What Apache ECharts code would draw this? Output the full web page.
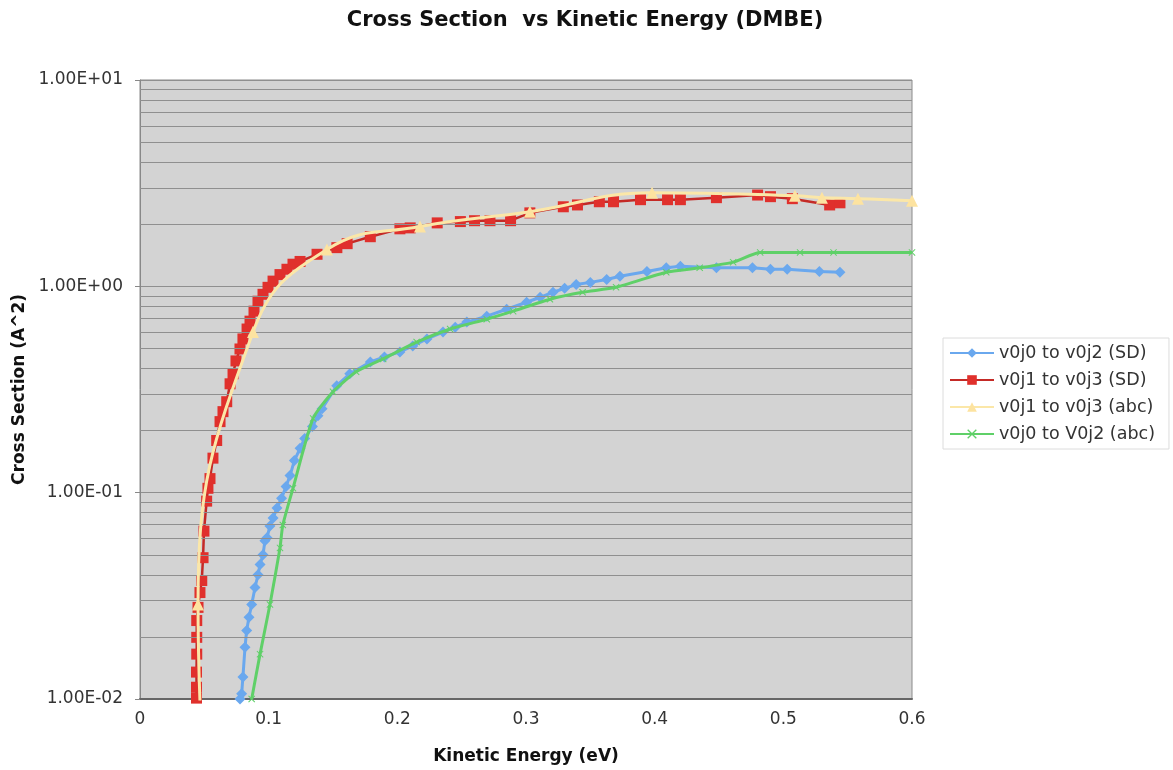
<!DOCTYPE html>
<html>
<head>
<meta charset="utf-8">
<script src="https://cdn.jsdelivr.net/npm/echarts@6/dist/echarts.min.js"></script>
<style>
html,body{margin:0;padding:0;background:#fff;}
#chart{width:1173px;height:770px;}
</style>
</head>
<body>
<div id="chart"></div>
<script>
// ---- data ----
const seriesNames = ['v0j0 to v0j2 (SD)', 'v0j1 to v0j3 (SD)', 'v0j1 to v0j3 (abc)', 'v0j0 to V0j2 (abc)'];

const blueX = [0.0777,0.079,0.080,0.0816,0.0829,0.0847,0.0868,0.0894,0.0917,0.0933,0.0956,0.0971,0.0987,0.101,0.1034,0.1065,0.110,0.1135,0.1166,0.120,0.1244,0.128,0.134,0.1383,0.1415,0.1529,0.163,0.179,0.190,0.202,0.212,0.223,0.2355,0.245,0.254,0.2695,0.285,0.3005,0.311,0.321,0.330,0.339,0.350,0.3627,0.373,0.394,0.409,0.420,0.448,0.476,0.490,0.503,0.528,0.544];
const blueY = [0.0100,0.0106,0.0128,0.0178,0.0215,0.0249,0.0287,0.0347,0.040,0.0448,0.050,0.0584,0.0604,0.069,0.0754,0.0842,0.094,0.107,0.121,0.143,0.164,0.183,0.209,0.236,0.255,0.330,0.377,0.430,0.455,0.481,0.514,0.556,0.600,0.634,0.671,0.717,0.774,0.837,0.885,0.936,0.978,1.02,1.045,1.08,1.12,1.18,1.23,1.25,1.23,1.23,1.21,1.21,1.18,1.17];

const redX = [0.0439,0.0439,0.0439,0.0441,0.0441,0.0441,0.0451,0.0466,0.0480,0.0490,0.0497,0.0518,0.0528,0.0544,0.0567,0.0596,0.0622,0.0645,0.0674,0.070,0.0723,0.0746,0.0777,0.080,0.0832,0.0855,0.0886,0.0917,0.0956,0.0995,0.1034,0.1088,0.1142,0.1189,0.1244,0.1376,0.153,0.161,0.179,0.202,0.210,0.231,0.249,0.260,0.272,0.288,0.303,0.329,0.340,0.357,0.368,0.389,0.410,0.420,0.448,0.480,0.490,0.507,0.536,0.544];
const redY = [0.0101,0.0114,0.0135,0.0165,0.0199,0.0240,0.0278,0.0328,0.0375,0.0484,0.0651,0.091,0.105,0.117,0.147,0.179,0.221,0.247,0.276,0.337,0.377,0.435,0.497,0.556,0.621,0.678,0.758,0.847,0.915,0.989,1.06,1.14,1.21,1.28,1.32,1.43,1.54,1.61,1.74,1.90,1.92,2.03,2.06,2.08,2.08,2.08,2.27,2.43,2.48,2.57,2.57,2.63,2.63,2.63,2.69,2.77,2.72,2.66,2.48,2.54];

const yellowX = [0.0468,0.0451,0.0878,0.1453,0.2176,0.303,0.398,0.509,0.530,0.558,0.600];
const yellowY = [0.0090,0.0287,0.600,1.51,1.95,2.30,2.84,2.75,2.69,2.66,2.60];

const greenX = [0.0868,0.0933,0.101,0.1088,0.111,0.1189,0.1345,0.150,0.168,0.189,0.215,0.241,0.2695,0.290,0.3186,0.344,0.370,0.409,0.435,0.461,0.482,0.513,0.539,0.600];
const greenY = [0.0100,0.0165,0.0287,0.054,0.0697,0.105,0.229,0.308,0.385,0.445,0.537,0.621,0.693,0.758,0.866,0.936,0.989,1.17,1.23,1.31,1.46,1.46,1.46,1.46];

const xTicks = [0, 0.1, 0.2, 0.3, 0.4, 0.5, 0.6];
const yDecades = [0.01, 0.1, 1, 10];

// ---- build ----
const zip = (xs, ys) => xs.map((x, i) => [x, ys[i]]);
const minorGrid = [];
for (let d = 0; d < yDecades.length - 1; d++) {
  for (let m = 2; m <= 9; m++) minorGrid.push({ yAxis: +(m * yDecades[d]).toPrecision(3) });
}
const FONT = 'DejaVu Sans';
const crossPath = 'path://M0,1L1,0L5,4L9,0L10,1L6,5L10,9L9,10L5,6L1,10L0,9L4,5Z';

const chart = echarts.init(document.getElementById('chart'), null, { renderer: 'canvas' });
chart.setOption({
  animation: false,
  backgroundColor: '#ffffff',
  title: {
    text: 'Cross Section  vs Kinetic Energy (DMBE)',
    left: 580, top: 5, textAlign: 'center',
    textStyle: { fontFamily: FONT, fontWeight: 'bold', fontSize: 21, color: '#111' }
  },
  legend: {
    orient: 'vertical', left: 943, top: 338,
    itemWidth: 44, itemHeight: 12, itemGap: 9,
    padding: [6, 14, 6, 6],
    borderColor: '#dcdcdc', borderWidth: 1,
    data: seriesNames,
    textStyle: { fontFamily: FONT, fontSize: 17.5, color: '#333' }
  },
  grid: {
    left: 140, right: 261, top: 80, bottom: 68,
    show: true, backgroundColor: '#d3d3d3', borderColor: '#8a8a8a', borderWidth: 1
  },
  xAxis: {
    type: 'value', min: 0, max: 0.6, interval: 0.1,
    name: 'Kinetic Energy (eV)', nameLocation: 'middle', nameGap: 49,
    nameTextStyle: { fontFamily: FONT, fontWeight: 'bold', fontSize: 17, color: '#111' },
    axisLine: { show: true, lineStyle: { color: '#666', width: 2 } },
    axisTick: { show: false },
    splitLine: { show: false },
    axisLabel: {
      fontFamily: FONT, fontSize: 17, color: '#333', margin: 12,
      formatter: v => String(+v.toFixed(1))
    }
  },
  yAxis: {
    type: 'log', logBase: 10, min: 0.01, max: 10,
    name: 'Cross Section (A^2)', nameLocation: 'middle', nameGap: 112, nameRotate: 90,
    nameTextStyle: { fontFamily: FONT, fontWeight: 'bold', fontSize: 17, color: '#111' },
    axisLine: { show: true, lineStyle: { color: '#888', width: 1 } },
    axisTick: { show: true, length: 5, lineStyle: { color: '#888' } },
    splitLine: { show: true, lineStyle: { color: '#8f8f8f', width: 1 } },
    axisLabel: {
      fontFamily: FONT, fontSize: 17, color: '#333', margin: 17,
      formatter: v => {
        const e = Math.round(Math.log10(v));
        return '1.00E' + (e < 0 ? '-' : '+') + String(Math.abs(e)).padStart(2, '0');
      }
    }
  },
  series: [
    {
      name: 'minor-grid', type: 'line', data: [], z: 1, silent: true,
      markLine: {
        silent: true, symbol: ['none', 'none'], label: { show: false },
        lineStyle: { color: '#8f8f8f', width: 1, type: 'solid' },
        emphasis: { disabled: true },
        data: minorGrid
      }
    },
    {
      name: seriesNames[0], type: 'line', data: zip(blueX, blueY), z: 3,
      symbol: 'diamond', symbolSize: 11, showAllSymbol: true,
      itemStyle: { color: '#6aa8ee' },
      lineStyle: { color: '#6aa8ee', width: 3 }
    },
    {
      name: seriesNames[1], type: 'line', data: zip(redX, redY), z: 4,
      symbol: 'rect', symbolSize: 11, showAllSymbol: true,
      itemStyle: { color: '#e0302c' },
      lineStyle: { color: '#c42a26', width: 2.5 }
    },
    {
      name: seriesNames[2], type: 'line', data: zip(yellowX, yellowY), z: 5,
      symbol: 'triangle', symbolSize: 12, showAllSymbol: true, smooth: 0.45,
      itemStyle: { color: '#fde3a0' },
      lineStyle: { color: '#fbe7a8', width: 3 }
    },
    {
      name: seriesNames[3], type: 'line', data: zip(greenX, greenY), z: 6,
      symbol: crossPath, symbolSize: 7, showAllSymbol: true, smooth: 0.2,
      itemStyle: { color: '#5fd068' },
      lineStyle: { color: '#5fd068', width: 3 }
    }
  ]
});
</script>
</body>
</html>
